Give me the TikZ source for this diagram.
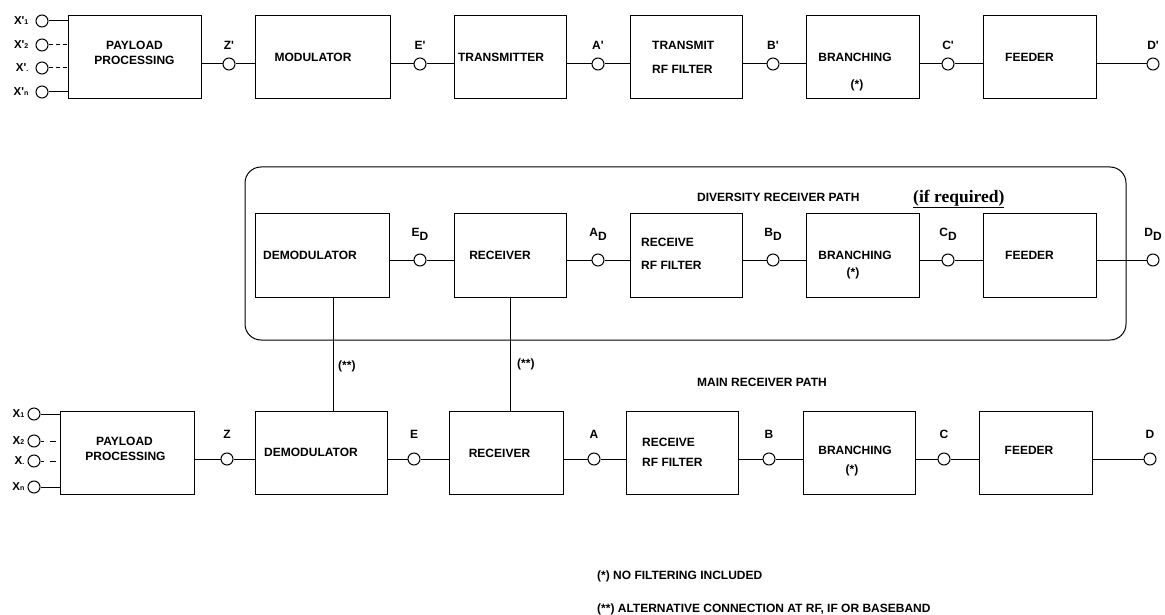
\documentclass[tikz,border=0pt]{standalone}
\usepackage{fontspec}
\setmainfont{Liberation Sans}[Ligatures=TeXOff]
\newfontfamily\reqfont{Liberation Serif}
\usetikzlibrary{positioning}
\tikzset{blk/.style 2 args={draw, line width=1pt, minimum width=#1, minimum height=#2, inner sep=0pt}}
\tikzset{port/.style={circle, draw, line width=1pt, minimum size=12pt, inner sep=0pt}}
\tikzset{txt/.style={font=\bfseries\fontsize{12}{14}\selectfont, inner sep=0pt, anchor=base}}
\tikzset{txtl/.style={txt, anchor=base west}}
\tikzset{plab/.style={font=\bfseries\fontsize{12}{14}\selectfont, inner sep=0pt}}
\tikzset{xlab/.style={font=\bfseries\fontsize{11.5}{13}\selectfont, inner sep=0pt}}
\tikzset{wire/.style={line width=1pt}}
\newcommand{\sbs}[1]{{\fontsize{7}{8}\selectfont #1}}
\newcommand{\dsub}[2]{#1\raisebox{-4pt}{#2}}

\begin{document}
\begin{tikzpicture}[x=1pt, y=-1pt]
\useasboundingbox (0,0) rectangle (1165,615);

% transmit path
\node[blk={133pt}{83pt}] (pp) at (134.5,57.5) {};
\node[blk={135pt}{83pt}] (mod) at (322.5,57.5) {};
\node[blk={112pt}{83pt}] (tx) at (510,57.5) {};
\node[blk={112pt}{83pt}] (tf) at (686,57.5) {};
\node[blk={113pt}{83pt}] (br) at (862.5,57.5) {};
\node[blk={113pt}{83pt}] (fd) at (1039.5,57.5) {};
\node[txt] (ppa) at (134.5,50) {PAYLOAD};
\node[txt] (ppb) at (134.5,65) {PROCESSING};
\node[txt] (modt) at (313,61.5) {MODULATOR};
\node[txt] (txt) at (501,61.5) {TRANSMITTER};
\node[txtl] (tfa) at (652,50) {TRANSMIT};
\node[txtl] (tfb) at (652,74) {RF FILTER};
\node[txt] (brt) at (855,61.5) {BRANCHING};
\node[txt] (brs) at (857,89) {(*)};
\node[txt] (fdt) at (1029.5,61.5) {FEEDER};

\foreach \n/\x/\l in {zp/229/Z', ep/420/E', ap/598/A', bp/773/B', cp/948/C', dp/1153/D'} {
  \node[port] (\n) at (\x,64) {};
  \node[plab, above=8pt of \n] (l\n) {\l};
}
\foreach \a/\p/\b in {pp/zp/mod, mod/ep/tx, tx/ap/tf, tf/bp/br, br/cp/fd}
  \draw[wire] (\a.east |- \p) -- (\p) -- (\b.west |- \p);
\draw[wire] (fd.east |- dp) -- (dp);

\node[port] (xa) at (42,21) {};
\node[port] (xb) at (42,45) {};
\node[port] (xc) at (42,68) {};
\node[port] (xd) at (42,92) {};
\node[xlab, left=7pt of xa] (lxa) {X'\sbs{1}};
\node[xlab, left=7pt of xb] (lxb) {X'\sbs{2}};
\node[xlab, left=7pt of xc] (lxc) {X'\sbs{.}};
\node[xlab, left=7pt of xd] (lxd) {X'\sbs{n}};
\draw[wire] (xa) -- (xa -| pp.west);
\draw[wire, dash pattern=on 4pt off 3pt] (xb) -- (xb -| pp.west);
\draw[wire, dash pattern=on 4pt off 3pt] (xc) -- (xc -| pp.west);
\draw[wire] (xd) -- (xd -| pp.west);

% diversity receiver path
\node[draw, line width=1pt, rounded corners=16pt, minimum width=881pt, minimum height=173pt] (div) at (685.5,253.5) {};
\node[txtl] (divt) at (697,201.5) {DIVERSITY RECEIVER PATH};
\node[txtl, font=\reqfont\bfseries\fontsize{17.5}{20}\selectfont] (req) at (913,202) {\underline{(if required)}};
\node[blk={134pt}{84pt}] (ddem) at (322,255) {};
\node[blk={112pt}{84pt}] (drx) at (510,255) {};
\node[blk={112pt}{84pt}] (drf) at (686,255) {};
\node[blk={113pt}{84pt}] (dbr) at (862.5,255) {};
\node[blk={113pt}{84pt}] (dfd) at (1039.5,255) {};
\node[txt] (ddemt) at (310,259.5) {DEMODULATOR};
\node[txt] (drxt) at (500,259.5) {RECEIVER};
\node[txtl] (drfa) at (641,246) {RECEIVE};
\node[txtl] (drfb) at (641,269) {RF FILTER};
\node[txt] (dbrt) at (855,259.5) {BRANCHING};
\node[txt] (dbrs) at (853,276.5) {(*)};
\node[txt] (dfdt) at (1029.5,259.5) {FEEDER};

\foreach \n/\x/\l in {ed/420/E, ad/598/A, bd/773/B, cd/948/C, dd/1153/D} {
  \node[port] (\n) at (\x,260) {};
  \node[plab, above=13pt of \n] (l\n) {\dsub{\l}{D}};
}
\foreach \a/\p/\b in {ddem/ed/drx, drx/ad/drf, drf/bd/dbr, dbr/cd/dfd}
  \draw[wire] (\a.east |- \p) -- (\p) -- (\b.west |- \p);
\draw[wire] (dfd.east |- dd) -- (dd);

% main receiver path
\node[txtl] (maint) at (697,386) {MAIN RECEIVER PATH};
\node[blk={134pt}{83pt}] (mpp) at (127,453) {};
\node[blk={132pt}{83pt}] (mdem) at (321,453) {};
\node[blk={114pt}{83pt}] (mrx) at (506,453) {};
\node[blk={112pt}{83pt}] (mrf) at (682,453) {};
\node[blk={112pt}{83pt}] (mbr) at (859,453) {};
\node[blk={113pt}{83pt}] (mfd) at (1035.5,453) {};
\node[txt] (mppa) at (124.5,445) {PAYLOAD};
\node[txt] (mppb) at (125.5,460) {PROCESSING};
\node[txt] (mdemt) at (311,456.5) {DEMODULATOR};
\node[txt] (mrxt) at (499.5,457) {RECEIVER};
\node[txtl] (mrfa) at (642,446) {RECEIVE};
\node[txtl] (mrfb) at (642,466) {RF FILTER};
\node[txt] (mbrt) at (855,454) {BRANCHING};
\node[txt] (mbrs) at (852,473.5) {(*)};
\node[txt] (mfdt) at (1029,454) {FEEDER};

\foreach \n/\x/\l in {z/227/Z, e/414/E, a/594/A, b/769/B, c/944/C, d/1150/D} {
  \node[port] (\n) at (\x,459) {};
  \node[plab, above=13.5pt of \n] (l\n) {\l};
}
\foreach \a/\p/\b in {mpp/z/mdem, mdem/e/mrx, mrx/a/mrf, mrf/b/mbr, mbr/c/mfd}
  \draw[wire] (\a.east |- \p) -- (\p) -- (\b.west |- \p);
\draw[wire] (mfd.east |- d) -- (d);

\node[port] (xm1) at (34,414) {};
\node[port] (xm2) at (34,441) {};
\node[port] (xm3) at (34,461) {};
\node[port] (xm4) at (34,487) {};
\node[xlab, left=3pt of xm1] (lxm1) {X\sbs{1}};
\node[xlab, left=3pt of xm2] (lxm2) {X\sbs{2}};
\node[xlab, left=3pt of xm3] (lxm3) {X\sbs{.}};
\node[xlab, left=3pt of xm4] (lxm4) {X\sbs{n}};
\draw[wire] (xm1) -- (xm1 -| mpp.west);
\draw[wire, dash pattern=on 3pt off 6pt on 6pt off 30pt] (xm2) -- (xm2 -| mpp.west);
\draw[wire, dash pattern=on 3pt off 6pt on 6pt off 30pt] (xm3) -- (xm3 -| mpp.west);
\draw[wire] (xm4) -- (xm4 -| mpp.west);

% alternative connections
\draw[wire] ([xshift=11pt]ddem.south) -- ([xshift=11pt]ddem.south |- mdem.north);
\draw[wire] (drx.south) -- (drx.south |- mrx.north);
\node[txtl] (alt1) at (338,369) {(**)};
\node[txtl] (alt2) at (517,367.5) {(**)};

% notes
\node[txtl] (note1) at (597,579) {(*) NO FILTERING INCLUDED};
\node[txtl] (note2) at (597,612) {(**) ALTERNATIVE CONNECTION AT RF, IF OR BASEBAND};
\end{tikzpicture}
\end{document}
